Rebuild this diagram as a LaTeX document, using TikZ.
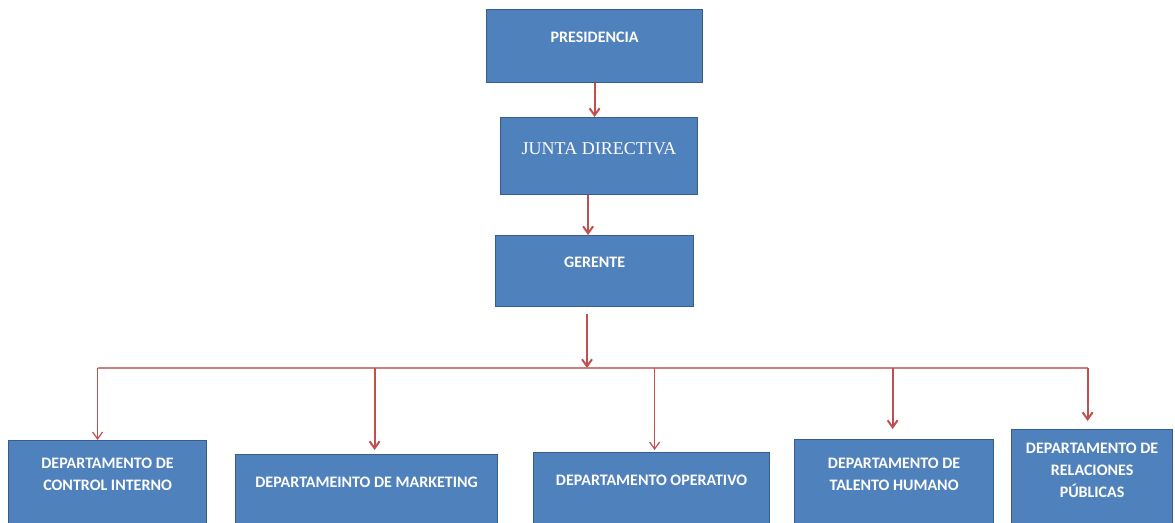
\documentclass[tikz,border=0pt]{standalone}
\usepackage{fontspec}
\setmainfont{Carlito}
\newfontfamily\juntafont{Liberation Serif}
\usetikzlibrary{arrows.meta, positioning, calc}
\definecolor{boxblue}{RGB}{79, 129, 189}
\definecolor{boxedge}{RGB}{56, 93, 138}
\definecolor{arrowred}{RGB}{192, 80, 77}

\begin{document}
\begin{tikzpicture}[x=1pt, y=-1pt,
  orgbox/.style={draw=boxedge, line width=1.2pt, fill=boxblue, inner sep=0pt, text=white, anchor=north west, font=\fontsize{16}{22}\selectfont\bfseries},
  link/.style={draw=arrowred, line width=2pt, -{Straight Barb[length=7pt, width=10pt]}},
  thinlink/.style={link, line width=1.2pt},
  bus/.style={draw=arrowred!75, line width=1.2pt}]
  \useasboundingbox (0,0) rectangle (1175,522);

  % Nodes
  \node[orgbox] (pres) at (486,9) {\parbox[t][73pt][t]{216pt}{\centering\rule{0pt}{33pt}PRESIDENCIA}};
  \node[orgbox] (junta) at (500,117) {\parbox[t][77pt][t]{197pt}{\centering\juntafont\mdseries\fontsize{18}{22}\selectfont\rule{0pt}{37pt}JUNTA DIRECTIVA}};
  \node[orgbox] (gerente) at (495,235) {\parbox[t][71pt][t]{198pt}{\centering\rule{0pt}{32pt}GERENTE}};
  \node[orgbox] (b1) at (8,440) {\parbox[t][95pt][t]{198pt}{\centering\rule{0pt}{28pt}DEPARTAMENTO DE\\CONTROL INTERNO}};
  \node[orgbox] (b2) at (235,454) {\parbox[t][95pt][t]{262pt}{\centering\rule{0pt}{33pt}DEPARTAMEINTO DE MARKETING}};
  \node[orgbox] (b3) at (533,452) {\parbox[t][95pt][t]{236pt}{\centering\rule{0pt}{33pt}DEPARTAMENTO OPERATIVO}};
  \node[orgbox] (b4) at (794,439) {\parbox[t][95pt][t]{199pt}{\centering\rule{0pt}{29pt}DEPARTAMENTO DE\\TALENTO HUMANO}};
  \node[orgbox] (b5) at (1011,429) {\parbox[t][105pt][t]{161pt}{\centering\rule{0pt}{24pt}DEPARTAMENTO DE\\RELACIONES\\PÚBLICAS}};
  \coordinate (hub) at (587,368);

  % Arrows
  \draw[link] (pres.south) -- (pres.south |- junta.north);
  \draw[link] ($(junta.south)+(-11,0)$) -- ($(junta.south |- gerente.north)+(-11,0)$);
  \draw[link] ($(gerente.south -| hub)+(0,7)$) -- (hub);
  \draw[bus] ($(b1.north |- hub)+(-10,0)$) -- ($(b5.north |- hub)+(-4.5,0)$);
  \foreach \b/\dx/\gap/\st in {b1/-10/0/thinlink, b2/8/4/link, b3/3/2/thinlink, b4/-1.5/10/link, b5/-4.5/8/link}
    \draw[\st, shorten >=\gap pt] ($(\b.north |- hub)+(\dx,0)$) -- ($(\b.north)+(\dx,0)$);
\end{tikzpicture}
\end{document}
